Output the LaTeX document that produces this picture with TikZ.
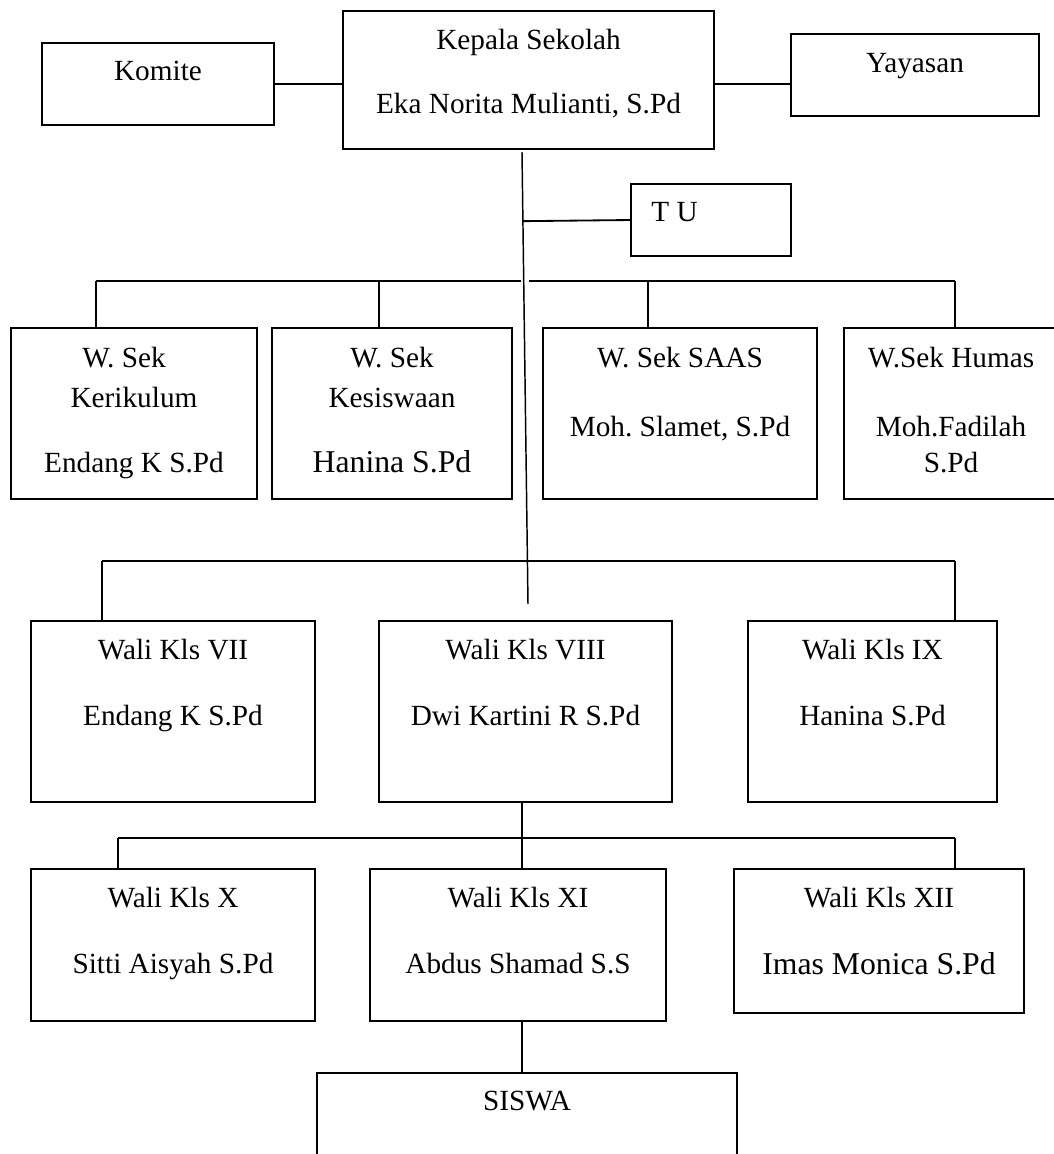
\documentclass[tikz,border=0pt]{standalone}
\usepackage{fontspec}
\setmainfont{Liberation Serif}
\usetikzlibrary{calc}
\newcommand{\pxu}{0.41pt}
\frenchspacing

\begin{document}
\begin{tikzpicture}[
    x=\pxu, y=-\pxu,
    orgbox/.style={draw, line width=0.8pt, inner sep=0pt, outer sep=0pt},
    boxsize/.style 2 args={minimum width=#1*\pxu, minimum height=#2*\pxu},
    link/.style={line width=0.75pt},
    spine/.style={line width=0.6pt},
    txt/.style={anchor=base, inner sep=0pt, font=\fontsize{12}{14}\selectfont},
    bigtxt/.style={txt, font=\fontsize{13}{15}\selectfont},
  ]
  \useasboundingbox (0,0) rectangle (1054,1154);
  \clip (0,0) rectangle (1054,1154);
  \fill[white] (0,0) rectangle (1054,1154);

  % Top row: head of school with committee and foundation, T U below
  \node[orgbox, boxsize={371}{138}] (kepala) at (528.5,80) {};
  \node[orgbox, boxsize={232}{82}] (komite) at (158,84) {};
  \node[orgbox, boxsize={248}{82}] (yayasan) at (915,75) {};
  \node[orgbox, boxsize={160}{72}] (tu) at (711,220) {};

  \node[txt] (kepalaT) at ($(kepala.north)+(0,38)$) {Kepala Sekolah};
  \node[txt] (kepalaN) at ($(kepala.north)+(0,102)$) {Eka Norita Mulianti, S.Pd};
  \node[txt] (komiteT) at ($(komite.north)+(0,37)$) {Komite};
  \node[txt] (yayasanT) at ($(yayasan.north)+(0,38)$) {Yayasan};
  \node[txt, anchor=base west] (tuT) at ($(tu.north west)+(20,37)$) {T U};

  % W. Sek row
  \node[orgbox, boxsize={246}{171}] (kur) at (134,413.5) {};
  \node[orgbox, boxsize={240}{171}] (kes) at (392,413.5) {};
  \node[orgbox, boxsize={274}{171}] (saas) at (680,413.5) {};
  \node[orgbox, boxsize={214}{171}] (humas) at (951,413.5) {};

  \node[txt] (kurT) at ($(kur.north)+(-10,39)$) {W. Sek};
  \node[txt] (kurS) at ($(kur.north)+(0,79)$) {Kerikulum};
  \node[txt] (kurN) at ($(kur.north)+(0,144)$) {Endang K S.Pd};
  \node[txt] (kesT) at ($(kes.north)+(0,39)$) {W. Sek};
  \node[txt] (kesS) at ($(kes.north)+(0,79)$) {Kesiswaan};
  \node[bigtxt] (kesN) at ($(kes.north)+(0,144)$) {Hanina S.Pd};
  \node[txt] (saasT) at ($(saas.north)+(0,39)$) {W. Sek SAAS};
  \node[txt] (saasN) at ($(saas.north)+(0,108)$) {Moh. Slamet, S.Pd};
  \node[txt] (humasT) at ($(humas.north)+(0,39)$) {W.Sek Humas};
  \node[txt] (humasN) at ($(humas.north)+(0,108)$) {Moh.Fadilah};
  \node[txt] (humasS) at ($(humas.north)+(0,144)$) {S.Pd};

  % Wali Kls VII - IX
  \node[orgbox, boxsize={284}{181}] (wali7) at (173,711.5) {};
  \node[orgbox, boxsize={293}{181}] (wali8) at (525.5,711.5) {};
  \node[orgbox, boxsize={249}{181}] (wali9) at (872.5,711.5) {};

  \node[txt] (wali7T) at ($(wali7.north)+(0,38)$) {Wali Kls VII};
  \node[txt] (wali7N) at ($(wali7.north)+(0,104)$) {Endang K S.Pd};
  \node[txt] (wali8T) at ($(wali8.north)+(0,38)$) {Wali Kls VIII};
  \node[txt] (wali8N) at ($(wali8.north)+(0,104)$) {Dwi Kartini R S.Pd};
  \node[txt] (wali9T) at ($(wali9.north)+(0,38)$) {Wali Kls IX};
  \node[txt] (wali9N) at ($(wali9.north)+(0,104)$) {Hanina S.Pd};

  % Wali Kls X - XII
  \node[orgbox, boxsize={284}{152}] (wali10) at (173,945) {};
  \node[orgbox, boxsize={296}{152}] (wali11) at (518,945) {};
  \node[orgbox, boxsize={290}{144}] (wali12) at (879,941) {};

  \node[txt] (wali10T) at ($(wali10.north)+(0,38)$) {Wali Kls X};
  \node[txt] (wali10N) at ($(wali10.north)+(0,104)$) {Sitti Aisyah S.Pd};
  \node[txt] (wali11T) at ($(wali11.north)+(0,38)$) {Wali Kls XI};
  \node[txt] (wali11N) at ($(wali11.north)+(0,104)$) {Abdus Shamad S.S};
  \node[txt] (wali12T) at ($(wali12.north)+(0,38)$) {Wali Kls XII};
  \node[bigtxt] (wali12N) at ($(wali12.north)+(0,105)$) {Imas Monica S.Pd};

  % Students (runs off the bottom edge)
  \node[orgbox, boxsize={420}{140}] (siswa) at (527,1143) {};
  \node[txt] (siswaT) at ($(siswa.north)+(0,37)$) {SISWA};

  % Connectors at the top
  \coordinate (spinetop) at (522,152);
  \coordinate (spinebot) at (528,604);
  \draw[link] (komite.east) -- (komite.east -| kepala.west);
  \draw[link] (kepala.east |- komite.east) -- (yayasan.west |- komite.east);
  \draw[spine] (spinetop) -- (spinebot);
  \draw[link] ($(spinetop)!0.153!(spinebot)$) -- (tu.west);

  % Bar over the W. Sek boxes, broken where the spine passes
  \coordinate (wbarL) at (96,281);
  \coordinate (wgapL) at (521,281);
  \coordinate (wgapR) at (529,281);
  \coordinate (wdrop2) at (379,281);
  \coordinate (wdrop3) at (648,281);
  \coordinate (wbarR) at (955,281);
  \draw[link] (wbarL) -- (wgapL);
  \draw[link] (wgapR) -- (wbarR);
  \draw[link] (wbarL) -- (wbarL |- kur.north);
  \draw[link] (wdrop2) -- (wdrop2 |- kes.north);
  \draw[link] (wdrop3) -- (wdrop3 |- saas.north);
  \draw[link] (wbarR) -- (wbarR |- humas.north);

  % Bar over Wali Kls VII - IX
  \coordinate (vbarL) at (102,561);
  \coordinate (vbarR) at (955,561);
  \draw[link] (vbarL) -- (vbarR);
  \draw[link] (vbarL) -- (vbarL |- wali7.north);
  \draw[link] (vbarR) -- (vbarR |- wali9.north);

  % Bar over Wali Kls X - XII, then down to SISWA
  \coordinate (lbarL) at (118,838);
  \coordinate (lbarM) at (522,838);
  \coordinate (lbarR) at (955,838);
  \draw[link] (lbarM |- wali8.south) -- (lbarM |- wali11.north);
  \draw[link] (lbarL) -- (lbarR);
  \draw[link] (lbarL) -- (lbarL |- wali10.north);
  \draw[link] (lbarR) -- (lbarR |- wali12.north);
  \draw[link] (lbarM |- wali11.south) -- (lbarM |- siswa.north);

\end{tikzpicture}
\end{document}
